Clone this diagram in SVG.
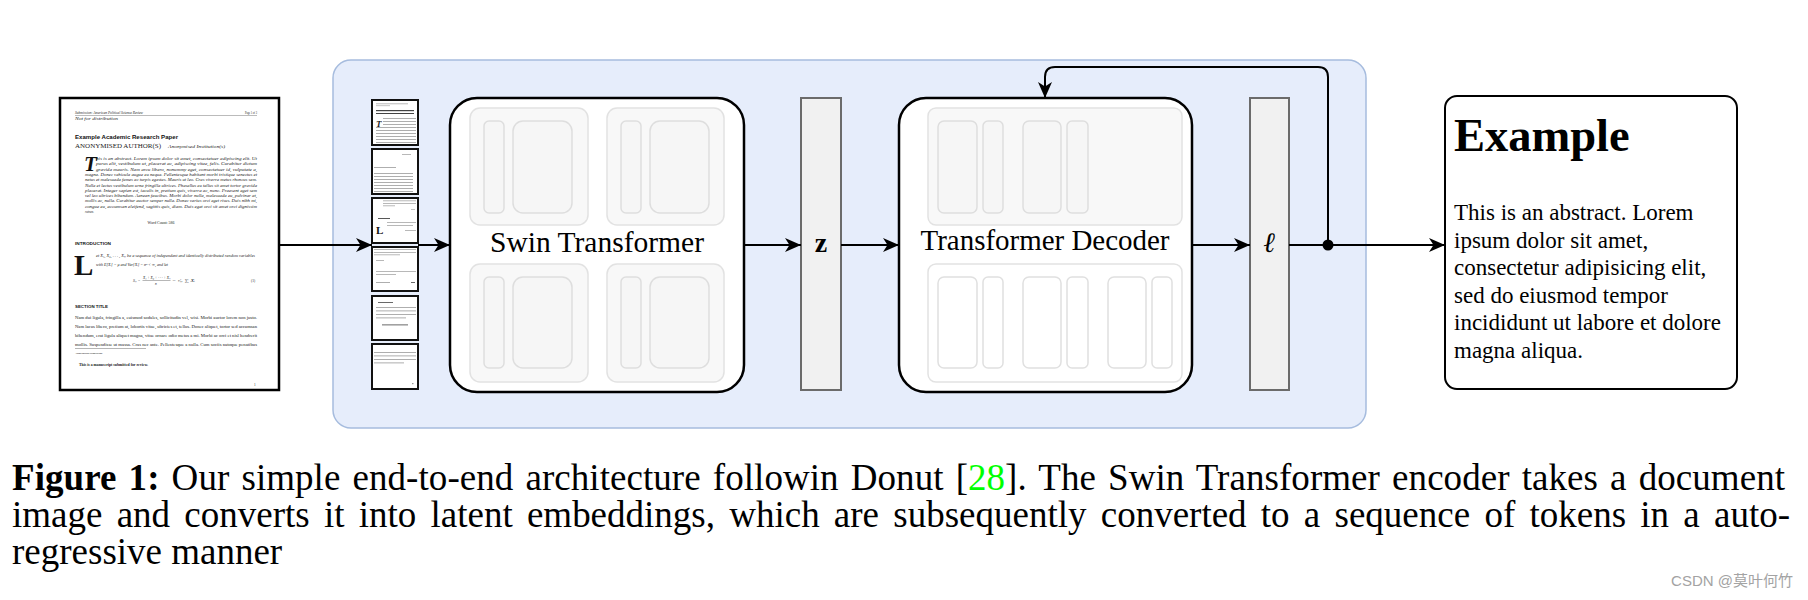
<svg xmlns="http://www.w3.org/2000/svg" width="1808" height="600" viewBox="0 0 1808 600">
<style>
.serif{font-family:"Liberation Serif","Times New Roman",serif}
.sans{font-family:"Liberation Sans",Arial,sans-serif}
.conn{fill:none;stroke:#000;stroke-width:2}
.grp{fill:#f8f8f8;stroke:#e2e2e2;stroke-width:1.5}
.blk{fill:#f6f6f6;stroke:#dedede;stroke-width:1.5}
.vec{fill:#f1f1f1;stroke:#6b6b6b;stroke-width:2}
.big{fill:#fff;stroke:#000;stroke-width:2.5}
.thumb{fill:#fff;stroke:#111;stroke-width:2}
.tl{fill:#9a9a9a}
.td{fill:#444}
.pg{font-family:"Liberation Serif","Times New Roman",serif;fill:#1a1a1a}
.pgs{font-family:"Liberation Sans",Arial,sans-serif;fill:#111;font-weight:bold}
</style>
<defs>
<marker id="arr" markerUnits="userSpaceOnUse" viewBox="0 0 16 16" refX="16" refY="8" markerWidth="16" markerHeight="16" orient="auto">
<path d="M0,1 L16,8 L0,15 L4.5,8 Z" fill="#000"/>
</marker>
</defs>
<rect width="1808" height="600" fill="#fff"/>

<g id="container">
<rect x="333" y="60" width="1033" height="368" rx="18" fill="#e6edfb" stroke="#a6bcde" stroke-width="1.5"/>
</g>

<g id="document">
<rect x="60" y="98" width="219" height="292" fill="#fff" stroke="#000" stroke-width="2.5"/>
<text class="pg" x="75" y="114" font-size="3.4" textLength="68" lengthAdjust="spacingAndGlyphs" font-style="italic">Submission: American Political Science Review</text>
<text class="pg" x="245" y="114" font-size="3.4" textLength="12" lengthAdjust="spacingAndGlyphs">Page 1 of 3</text>
<rect x="75" y="115.3" width="182" height="0.4" fill="#555"/>
<text class="pg" x="75" y="119.5" font-size="3" textLength="43" lengthAdjust="spacingAndGlyphs" font-style="italic">Not for distribution</text>
<text class="pgs" x="75" y="138.5" font-size="6.2" textLength="103" lengthAdjust="spacingAndGlyphs">Example Academic Research Paper</text>
<text class="pg" x="75" y="147.5" font-size="5.2" textLength="86" lengthAdjust="spacingAndGlyphs">ANONYMISED AUTHOR(S)</text>
<text class="pg" x="168" y="147.5" font-size="4.2" textLength="57" lengthAdjust="spacingAndGlyphs" font-style="italic">Anonymised Institution(s)</text>
<text class="serif" x="84" y="171" font-size="21" font-weight="bold" font-style="italic" fill="#111">T</text>
<g class="pg" font-size="4.2" font-style="italic">
<text x="96" y="160" textLength="161" lengthAdjust="spacingAndGlyphs">his is an abstract. Lorem ipsum dolor sit amet, consectetuer adipiscing elit. Ut</text>
<text x="96" y="165.3" textLength="161" lengthAdjust="spacingAndGlyphs">purus elit, vestibulum ut, placerat ac, adipiscing vitae, felis. Curabitur dictum</text>
<text x="96" y="170.6" textLength="161" lengthAdjust="spacingAndGlyphs">gravida mauris. Nam arcu libero, nonummy eget, consectetuer id, vulputate a,</text>
<text x="85" y="175.9" textLength="172" lengthAdjust="spacingAndGlyphs">magna. Donec vehicula augue eu neque. Pellentesque habitant morbi tristique senectus et</text>
<text x="85" y="181.2" textLength="172" lengthAdjust="spacingAndGlyphs">netus et malesuada fames ac turpis egestas. Mauris ut leo. Cras viverra metus rhoncus sem.</text>
<text x="85" y="186.5" textLength="172" lengthAdjust="spacingAndGlyphs">Nulla et lectus vestibulum urna fringilla ultrices. Phasellus eu tellus sit amet tortor gravida</text>
<text x="85" y="191.8" textLength="172" lengthAdjust="spacingAndGlyphs">placerat. Integer sapien est, iaculis in, pretium quis, viverra ac, nunc. Praesent eget sem</text>
<text x="85" y="197.1" textLength="172" lengthAdjust="spacingAndGlyphs">vel leo ultrices bibendum. Aenean faucibus. Morbi dolor nulla, malesuada eu, pulvinar at,</text>
<text x="85" y="202.4" textLength="172" lengthAdjust="spacingAndGlyphs">mollis ac, nulla. Curabitur auctor semper nulla. Donec varius orci eget risus. Duis nibh mi,</text>
<text x="85" y="207.7" textLength="172" lengthAdjust="spacingAndGlyphs">congue eu, accumsan eleifend, sagittis quis, diam. Duis eget orci sit amet orci dignissim</text>
<text x="85" y="213" textLength="9" lengthAdjust="spacingAndGlyphs">rutrum.</text>
</g>
<text class="pg" x="161" y="224" font-size="3.9" text-anchor="middle">Word Count: 586</text>
<text class="pgs" x="75" y="245" font-size="4.4" textLength="36" lengthAdjust="spacingAndGlyphs">INTRODUCTION</text>
<text class="serif" x="74" y="275" font-size="29" font-weight="bold" fill="#111">L</text>
<text class="pg" x="96" y="257" font-size="4" textLength="159" lengthAdjust="spacingAndGlyphs" font-style="italic">et X₁, X₂, . . . , Xₙ be a sequence of independent and identically distributed random variables</text>
<text class="pg" x="96" y="266" font-size="4" textLength="72" lengthAdjust="spacingAndGlyphs" font-style="italic">with E[Xᵢ] = μ and Var[Xᵢ] = σ² &lt; ∞, and let</text>
<text class="pg" x="133" y="281.5" font-size="3.8" font-style="italic">Sₙ =</text>
<text class="pg" x="143" y="279" font-size="3.4" textLength="27" lengthAdjust="spacingAndGlyphs" font-style="italic">X₁ + X₂ + · · · + Xₙ</text>
<rect x="142.5" y="280.2" width="28" height="0.35" fill="#333"/>
<text class="pg" x="155" y="284.6" font-size="3.4" font-style="italic">n</text>
<text class="pg" x="172" y="281.5" font-size="3.8" textLength="23" lengthAdjust="spacingAndGlyphs" font-style="italic">= ¹⁄ₙ ∑ Xᵢ</text>
<text class="pg" x="251" y="281.5" font-size="3.6">(1)</text>
<text class="pgs" x="75" y="308" font-size="4.4" textLength="33" lengthAdjust="spacingAndGlyphs">SECTION TITLE</text>
<g class="pg" font-size="4.3">
<text x="75" y="319" textLength="182" lengthAdjust="spacingAndGlyphs">Nam dui ligula, fringilla a, euismod sodales, sollicitudin vel, wisi. Morbi auctor lorem non justo.</text>
<text x="75" y="328.2" textLength="182" lengthAdjust="spacingAndGlyphs">Nam lacus libero, pretium at, lobortis vitae, ultricies et, tellus. Donec aliquet, tortor sed accumsan</text>
<text x="75" y="337.2" textLength="182" lengthAdjust="spacingAndGlyphs">bibendum, erat ligula aliquet magna, vitae ornare odio metus a mi. Morbi ac orci et nisl hendrerit</text>
<text x="75" y="346" textLength="182" lengthAdjust="spacingAndGlyphs">mollis. Suspendisse ut massa. Cras nec ante. Pellentesque a nulla. Cum sociis natoque penatibus</text>
</g>
<rect x="75" y="348.6" width="71" height="0.4" fill="#444"/>
<text class="pg" x="75" y="353.6" font-size="2.9" textLength="28" lengthAdjust="spacingAndGlyphs" font-style="italic">Anonymised submission.</text>
<text class="pg" x="79" y="366" font-size="3.9" textLength="69" lengthAdjust="spacingAndGlyphs" font-weight="bold">This is a manuscript submitted for review.</text>
<text class="pg" x="254" y="386" font-size="3.4">1</text>
</g>

<g id="thumbnails">
<rect class="thumb" x="372" y="100" width="46" height="45"/>
<rect class="tl" x="376" y="103.5" width="32" height="0.7"/>
<rect class="tl" x="376" y="105.5" width="14" height="0.6"/>
<rect class="td" x="376" y="110" width="38" height="1.2"/>
<rect class="td" x="376" y="113" width="38" height="1"/>
<text class="serif" x="376" y="127" font-size="9" font-weight="bold" font-style="italic" fill="#222">T</text>
<rect class="tl" x="383" y="118" width="33" height="0.8"/>
<rect class="tl" x="383" y="121" width="33" height="0.8"/>
<rect class="tl" x="383" y="124" width="33" height="0.8"/>
<rect class="tl" x="376" y="127" width="40" height="0.8"/>
<rect class="tl" x="376" y="130" width="40" height="0.8"/>
<rect class="tl" x="376" y="133" width="40" height="0.8"/>
<rect class="tl" x="376" y="136" width="40" height="0.8"/>
<rect class="tl" x="376" y="139" width="40" height="0.8"/>
<rect class="tl" x="376" y="142" width="40" height="0.8"/>

<rect class="thumb" x="372" y="149" width="46" height="45"/>
<rect class="tl" x="402" y="154" width="9" height="0.7"/>
<rect class="tl" x="374" y="167" width="22" height="0.8"/>
<rect class="tl" x="374" y="173" width="39" height="0.8"/>
<rect class="tl" x="374" y="176" width="39" height="0.8"/>
<rect class="tl" x="374" y="179" width="39" height="0.8"/>
<rect class="tl" x="374" y="182" width="39" height="0.8"/>
<rect class="tl" x="374" y="185" width="39" height="0.8"/>
<rect class="tl" x="374" y="188" width="39" height="0.8"/>
<rect class="tl" x="374" y="191" width="39" height="0.8"/>

<rect class="thumb" x="372" y="198" width="46" height="45"/>
<rect class="tl" x="383" y="200.5" width="33" height="0.7"/>
<rect class="tl" x="383" y="203" width="33" height="0.7"/>
<rect class="tl" x="383" y="205.5" width="12" height="0.7"/>
<rect class="tl" x="411" y="209" width="4" height="0.6"/>
<rect class="td" x="378" y="218" width="12" height="0.9"/>
<text class="serif" x="376" y="234" font-size="11" font-weight="bold" fill="#111">L</text>
<rect class="tl" x="387" y="222" width="29" height="0.7"/>
<rect class="tl" x="387" y="225" width="26" height="0.7"/>
<rect class="tl" x="405" y="230" width="11" height="0.7"/>

<rect class="thumb" x="372" y="247" width="46" height="44"/>
<rect class="tl" x="374" y="249" width="42" height="0.7"/>
<rect class="tl" x="374" y="252" width="42" height="0.7"/>
<rect class="tl" x="374" y="254.5" width="26" height="0.7"/>
<rect class="tl" x="376" y="260" width="8" height="0.7"/>
<rect class="tl" x="376" y="271" width="40" height="0.7"/>
<rect class="tl" x="376" y="274" width="20" height="0.7"/>
<rect class="tl" x="376" y="282" width="14" height="0.8"/>
<rect class="td" x="411" y="282" width="4" height="0.8"/>

<rect class="thumb" x="372" y="296" width="46" height="44"/>
<rect class="td" x="378" y="302" width="15" height="0.8"/>
<rect class="tl" x="376" y="307" width="40" height="0.8"/>
<rect class="tl" x="376" y="310.5" width="40" height="0.8"/>
<rect class="tl" x="376" y="314" width="40" height="0.8"/>
<rect class="tl" x="376" y="317.5" width="30" height="0.8"/>
<rect class="td" x="382" y="324.5" width="26" height="0.8"/>

<rect class="thumb" x="372" y="344" width="46" height="45"/>
<rect class="tl" x="374" y="352" width="42" height="0.8"/>
<rect class="tl" x="374" y="355.5" width="42" height="0.8"/>
<rect class="tl" x="374" y="359" width="42" height="0.8"/>
<rect class="tl" x="374" y="362.5" width="30" height="0.8"/>
<rect class="tl" x="412" y="383" width="1.5" height="1.2"/>
</g>

<g id="swin">
<rect class="big" x="450" y="98" width="294" height="294" rx="27"/>
<rect class="grp" x="470" y="108" width="118" height="117" rx="10"/>
<rect class="blk" x="484" y="121" width="20" height="92" rx="5"/>
<rect class="blk" x="513" y="121" width="59" height="92" rx="10"/>
<rect class="grp" x="607" y="108" width="117" height="117" rx="10"/>
<rect class="blk" x="621" y="121" width="20" height="92" rx="5"/>
<rect class="blk" x="650" y="121" width="59" height="92" rx="10"/>
<rect class="grp" x="470" y="264" width="118" height="118" rx="10"/>
<rect class="blk" x="484" y="277" width="20" height="91" rx="5"/>
<rect class="blk" x="513" y="277" width="59" height="91" rx="10"/>
<rect class="grp" x="607" y="264" width="117" height="118" rx="10"/>
<rect class="blk" x="621" y="277" width="20" height="91" rx="5"/>
<rect class="blk" x="650" y="277" width="59" height="91" rx="10"/>
<text class="serif" x="597" y="252" font-size="29.5" text-anchor="middle" textLength="214" lengthAdjust="spacingAndGlyphs">Swin Transformer</text>
</g>

<g id="z">
<rect class="vec" x="801" y="98" width="40" height="292"/>
<text class="serif" x="821" y="252" font-size="28" font-weight="bold" text-anchor="middle">z</text>
</g>

<g id="decoder">
<rect class="big" x="899" y="98" width="293" height="294" rx="27"/>
<rect class="grp" x="928" y="108" width="254" height="117" rx="8"/>
<rect class="blk" x="938" y="121" width="39" height="92" rx="6"/>
<rect class="blk" x="983" y="121" width="20" height="92" rx="5"/>
<rect class="blk" x="1023" y="121" width="38" height="92" rx="6"/>
<rect class="blk" x="1067" y="121" width="21" height="92" rx="5"/>
<rect fill="#fff" stroke="#e2e2e2" stroke-width="1.5" x="928" y="264" width="254" height="118" rx="8"/>
<rect fill="#fff" stroke="#e0e0e0" stroke-width="1.5" x="938" y="277" width="39" height="91" rx="6"/>
<rect fill="#fff" stroke="#e0e0e0" stroke-width="1.5" x="983" y="277" width="20" height="91" rx="5"/>
<rect fill="#fff" stroke="#e0e0e0" stroke-width="1.5" x="1023" y="277" width="38" height="91" rx="6"/>
<rect fill="#fff" stroke="#e0e0e0" stroke-width="1.5" x="1067" y="277" width="21" height="91" rx="5"/>
<rect fill="#fff" stroke="#e0e0e0" stroke-width="1.5" x="1108" y="277" width="38" height="91" rx="6"/>
<rect fill="#fff" stroke="#e0e0e0" stroke-width="1.5" x="1152" y="277" width="20" height="91" rx="5"/>
<text class="serif" x="1045" y="250" font-size="29.5" text-anchor="middle" textLength="249" lengthAdjust="spacingAndGlyphs">Transformer Decoder</text>
</g>

<g id="l">
<rect class="vec" x="1250" y="98" width="39" height="292"/>
<text class="serif" x="1269" y="252" font-size="28" font-style="italic" text-anchor="middle">ℓ</text>
</g>

<g id="example">
<rect x="1445" y="96" width="292" height="293" rx="12" fill="#fff" stroke="#000" stroke-width="2"/>
<text class="serif" x="1454" y="151" font-size="46.5" font-weight="bold">Example</text>
<g class="serif" font-size="23">
<text x="1454" y="220">This is an abstract. Lorem</text>
<text x="1454" y="247.6">ipsum dolor sit amet,</text>
<text x="1454" y="275.2">consectetur adipisicing elit,</text>
<text x="1454" y="302.8">sed do eiusmod tempor</text>
<text x="1454" y="330.4">incididunt ut labore et dolore</text>
<text x="1454" y="358">magna aliqua.</text>
</g>
</g>

<g id="connectors">
<path class="conn" d="M279,245 H372" marker-end="url(#arr)"/>
<path class="conn" d="M418,245 H450" marker-end="url(#arr)"/>
<path class="conn" d="M744,245 H801" marker-end="url(#arr)"/>
<path class="conn" d="M841,245 H899" marker-end="url(#arr)"/>
<path class="conn" d="M1192,245 H1250" marker-end="url(#arr)"/>
<path class="conn" d="M1289,245 H1445" marker-end="url(#arr)"/>
<path class="conn" d="M1328,245 V77 Q1328,67 1318,67 H1055 Q1045,67 1045,77 V98" marker-end="url(#arr)"/>
<circle cx="1328" cy="245" r="5.5" fill="#000"/>
</g>

<g id="caption" class="serif" font-size="37">
<text x="12" y="490" word-spacing="2.8" textLength="1773" lengthAdjust="spacing"><tspan font-weight="bold">Figure 1:</tspan> Our simple end-to-end architecture followin Donut [<tspan fill="#00ff00">28</tspan>]. The Swin Transformer encoder takes a document</text>
<text x="12" y="527" word-spacing="5" textLength="1778" lengthAdjust="spacing">image and converts it into latent embeddings, which are subsequently converted to a sequence of tokens in a auto-</text>
<text x="12" y="564">regressive manner</text>
</g>

<g id="watermark">
<text x="1793" y="586" font-size="15" text-anchor="end" fill="#a3a3a3" font-family="'Liberation Sans','Noto Sans CJK SC',sans-serif">CSDN @莫叶何竹</text>
</g>
</svg>
